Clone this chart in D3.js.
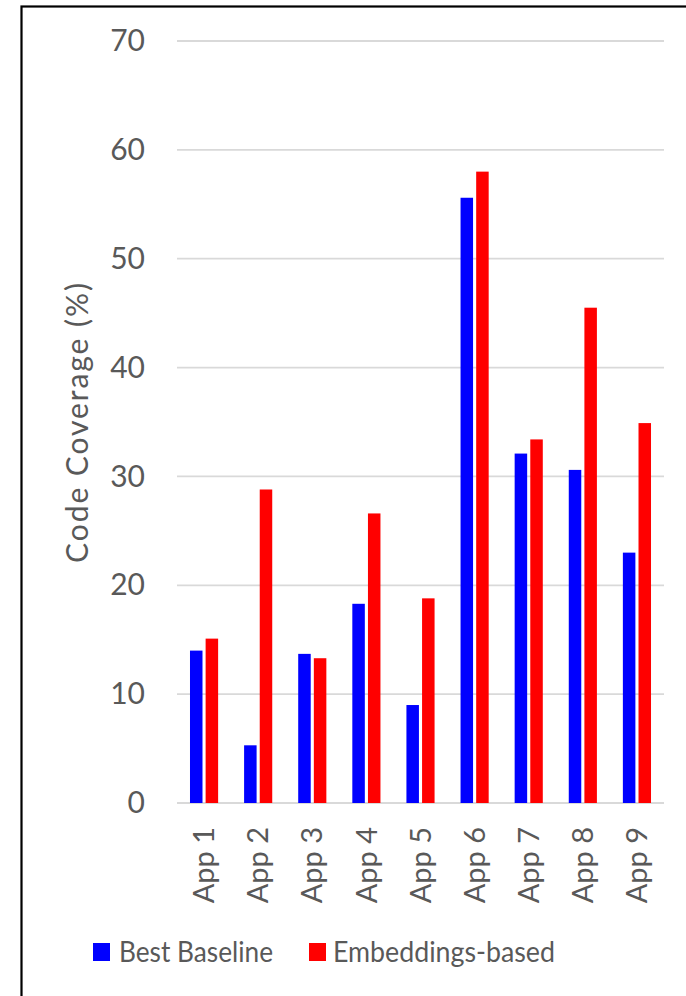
<!DOCTYPE html>
<html>
<head>
<meta charset="utf-8">
<script src="https://cdn.jsdelivr.net/npm/d3@7"></script>
<style>
  html, body { margin: 0; padding: 0; background: #fff; }
  svg { display: block; }
  text { font-family: Lato, "Open Sans", sans-serif; fill: #595959; }
</style>
</head>
<body>
<svg id="chart" width="686" height="996"></svg>
<script>
// Code coverage per app, two approaches
const apps = ["App 1", "App 2", "App 3", "App 4", "App 5", "App 6", "App 7", "App 8", "App 9"];
const seriesNames = ["Best Baseline", "Embeddings-based"];
const seriesColors = ["#0000ff", "#ff0000"];
const bestBaseline = [14.0, 5.3, 13.7, 18.3, 9.0, 55.6, 32.1, 30.6, 23.0];
const embeddingsBased = [15.1, 28.8, 13.3, 26.6, 18.8, 58.0, 33.4, 45.5, 34.9];
const yTicks = [0, 10, 20, 30, 40, 50, 60, 70];
const yTitle = "Code Coverage (%)";

const svg = d3.select("#chart");
const W = 686, H = 996;
const plot = { left: 177, right: 664, top: 41, bottom: 803 };

// outer frame (top and left edges visible)
svg.append("rect")
  .attr("x", 21.5).attr("y", 6.5)
  .attr("width", W + 20).attr("height", H + 20)
  .attr("fill", "none").attr("stroke", "#000").attr("stroke-width", 2.2);

const y = d3.scaleLinear().domain([0, 70]).range([plot.bottom, plot.top]);
const x0 = d3.scaleBand().domain(apps).range([plot.left, plot.right])
  .paddingInner(0.48).paddingOuter(0.24);
const x1 = d3.scaleBand().domain(d3.range(seriesNames.length))
  .range([0, x0.bandwidth()]).paddingInner(0.2);

// horizontal gridlines
svg.append("g").selectAll("line").data(yTicks).join("line")
  .attr("x1", plot.left).attr("x2", plot.right)
  .attr("y1", d => y(d)).attr("y2", d => y(d))
  .attr("stroke", "#d9d9d9").attr("stroke-width", 1.8);

// y axis labels
const yAxis = d3.axisLeft(y).tickValues(yTicks).tickSize(0).tickPadding(0);
const gy = svg.append("g").attr("transform", `translate(${plot.left - 32},0)`).call(yAxis);
gy.select(".domain").remove();
gy.selectAll("text").attr("font-size", 30).attr("fill", "#595959")
  .style("font-family", "Lato, 'Open Sans', sans-serif");

// y title
svg.append("text")
  .attr("transform", `translate(88,${(plot.top + plot.bottom) / 2 + 1}) rotate(-90)`)
  .attr("text-anchor", "middle")
  .attr("font-size", 30)
  .attr("textLength", 280)
  .attr("lengthAdjust", "spacing")
  .text(yTitle);

// bars
const values = [bestBaseline, embeddingsBased];
const groups = svg.append("g").selectAll("g").data(apps).join("g")
  .attr("transform", d => `translate(${x0(d)},0)`);
groups.selectAll("rect")
  .data((d, i) => values.map((v, s) => ({ s, v: v[i] })))
  .join("rect")
  .attr("x", d => x1(d.s))
  .attr("width", x1.bandwidth())
  .attr("y", d => y(d.v))
  .attr("height", d => y(0) - y(d.v))
  .attr("fill", d => seriesColors[d.s]);

// x axis labels (rotated)
const xAxis = d3.axisBottom(x0).tickSize(0).tickPadding(0);
const gx = svg.append("g").attr("transform", `translate(0,${plot.bottom + 24})`).call(xAxis);
gx.select(".domain").remove();
gx.selectAll("text")
  .attr("font-size", 29).attr("fill", "#595959")
  .style("font-family", "Lato, 'Open Sans', sans-serif")
  .attr("text-anchor", "end")
  .attr("dy", "0.35em").attr("y", 0).attr("x", 0)
  .attr("transform", "rotate(-90)");

// legend
const legendX = [93, 309];
const legendTextLen = [154, 222];
const legend = svg.append("g").selectAll("g").data(seriesNames).join("g")
  .attr("transform", (d, i) => `translate(${legendX[i]},943)`);
legend.append("rect").attr("width", 17).attr("height", 18)
  .attr("fill", (d, i) => seriesColors[i]);
legend.append("text").attr("x", (d, i) => i === 0 ? 26 : 24).attr("y", 19)
  .attr("font-size", 29)
  .attr("textLength", (d, i) => legendTextLen[i])
  .attr("lengthAdjust", "spacingAndGlyphs")
  .text(d => d);
</script>
</body>
</html>
